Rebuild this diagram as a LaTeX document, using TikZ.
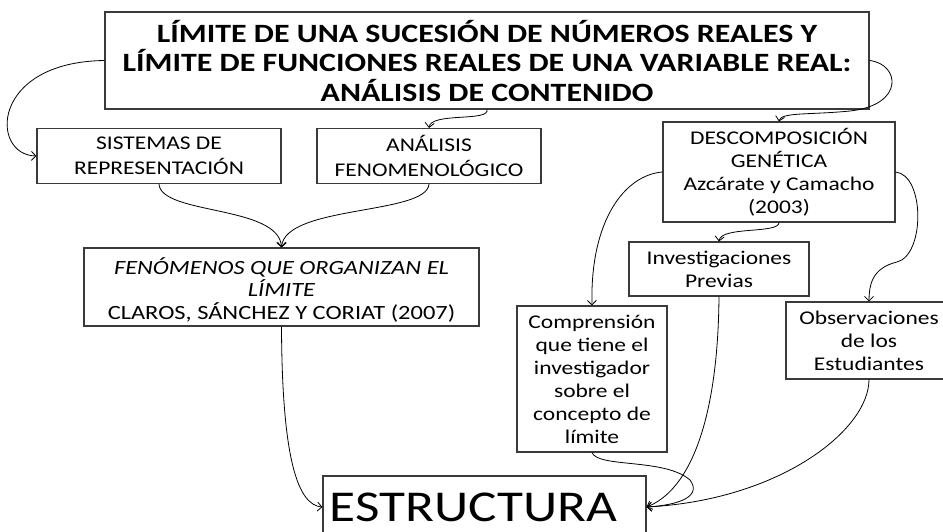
\documentclass[tikz,border=0pt]{standalone}
\usepackage{fontspec}
\setmainfont{Carlito}[FakeStretch=1.21]
\usetikzlibrary{arrows.meta}
\definecolor{boxgray}{HTML}{3A3A3A}
\begin{document}
\begin{tikzpicture}[x=1pt,y=-1pt,
  box/.style={draw=boxgray,line width=1.1pt,inner sep=0pt,align=center,font=\fontsize{19.4}{23}\selectfont},
  conn/.style={draw=black,line width=0.8pt,-{Straight Barb[length=4.5pt,width=9pt]}}]
\useasboundingbox (0,0) rectangle (943,531);
\fill[white] (0,0) rectangle (943,531);
\node[box,minimum width=764pt,minimum height=97pt,font=\fontsize{26.4}{29.5}\selectfont\bfseries] (title) at (487,60.5)
  {LÍMITE DE UNA SUCESIÓN DE NÚMEROS REALES Y\\LÍMITE DE FUNCIONES REALES DE UNA VARIABLE REAL:\\ANÁLISIS DE CONTENIDO};
\node[box,minimum width=244pt,minimum height=55pt,font=\fontsize{19.4}{25}\selectfont] (sis) at (159,156) {SISTEMAS DE\\REPRESENTACIÓN};
\node[box,minimum width=224pt,minimum height=55pt,font=\fontsize{19.4}{25}\selectfont] (ana) at (429,156) {ANÁLISIS\\FENOMENOLÓGICO};
\node[box,minimum width=395pt,minimum height=78pt,font=\fontsize{20.2}{22.5}\selectfont] (fen) at (281.5,287)
  {\rule{0pt}{22pt}\itshape FENÓMENOS QUE ORGANIZAN EL\\\itshape LÍMITE\\CLAROS, SÁNCHEZ Y CORIAT (2007)};
\node[box,minimum width=232pt,minimum height=100pt] (desc) at (779,172) {DESCOMPOSICIÓN\\GENÉTICA\\Azcárate y Camacho\\(2003)};
\node[box,minimum width=180pt,minimum height=54pt] (inv) at (719,269) {Investigaciones\\Previas};
\node[box,minimum width=150pt,minimum height=146pt] (comp) at (592,379) {Comprensión\\que tiene el\\investigador\\sobre el\\concepto de\\límite};
\node[box,minimum width=166pt,minimum height=77pt] (obs) at (869,340.5) {Observaciones\\de los\\Estudiantes};
\node[box,minimum width=323pt,minimum height=62pt,font=\fontsize{44}{50}\selectfont] (estr) at (484.5,507) {ESTRUCTURA\hspace*{22pt}};
% connectors
\draw[conn] (title.west) .. controls (-10,62) and (-10,155) .. (sis.west);
\draw[conn] (title.south) .. controls (490,122) and (431,112) .. (ana.north);
\draw[conn] (title.east) .. controls (900,64) and (905,105) .. (850,111) .. controls (810,115) and (781,112) .. (desc.north);
\draw[conn] (sis.south) .. controls (161,215) and (279,205) .. (fen.north);
\draw[conn] (ana.south) .. controls (427,215) and (285,205) .. (fen.north);
\draw[conn] (fen.south) .. controls (282,460) and (298,505) .. (estr.west);
\draw[conn] (desc.south) .. controls (779,234) and (721,226) .. (inv.north);
\draw[conn] (desc.west) .. controls (625,175) and (590,220) .. (comp.north);
\draw[conn] (desc.east) .. controls (925,175) and (925,255) .. (897,262) .. controls (872,268) and (869,285) .. (obs.north);
\draw[conn] (comp.south) .. controls (598,468) and (665,458) .. (690,480) .. controls (702,496) and (680,505) .. (estr.east);
\draw[conn] (inv.south) .. controls (718,420) and (690,490) .. (estr.east);
\draw[conn] (obs.south) .. controls (869,430) and (780,500) .. (estr.east);
\end{tikzpicture}
\end{document}
